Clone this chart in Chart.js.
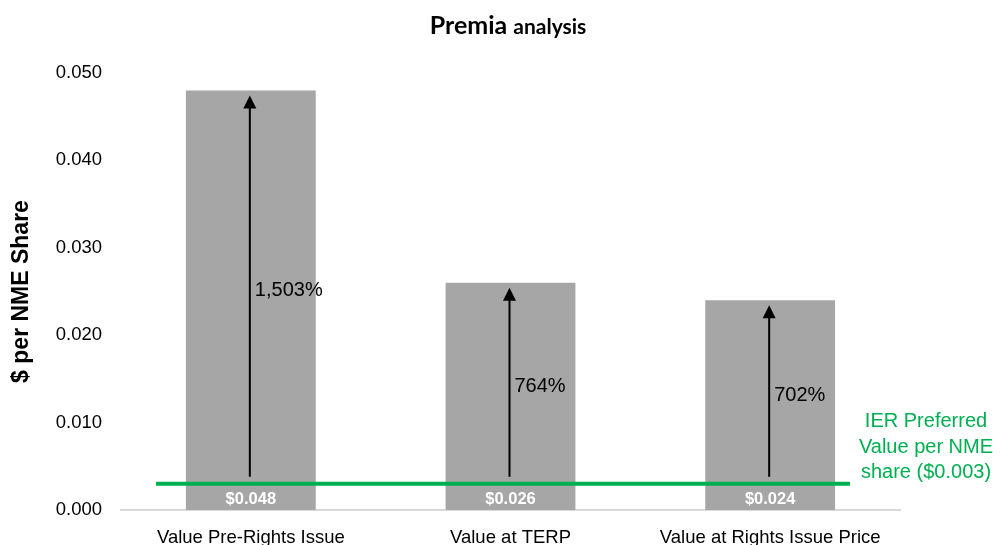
<!DOCTYPE html>
<html>
<head>
<meta charset="utf-8">
<script src="https://cdn.jsdelivr.net/npm/chart.js@4/dist/chart.umd.min.js"></script>
<style>
  html, body { margin: 0; padding: 0; background: #ffffff; }
  #wrap { width: 1000px; height: 545px; position: relative; }
</style>
</head>
<body>
<div id="wrap"><canvas id="c" width="1000" height="545"></canvas></div>
<script>
// Per-share values for each valuation basis
const categories = ['Value Pre-Rights Issue', 'Value at TERP', 'Value at Rights Issue Price'];
const shareValues = [0.048, 0.026, 0.024];
// Premium of each value over the preferred value
const premiumLabels = ['1,503%', '764%', '702%'];
// Preferred value per share (horizontal reference)
const preferredValue = 0.003;
const yTickValues = [0, 0.01, 0.02, 0.03, 0.04, 0.05];

const SANS = '"Liberation Sans", Arial, Helvetica, sans-serif';
const GREEN = '#00B050';
const BAR_GREY = '#A6A6A6';

// Bar value labels, reference line, premium arrows and the title
const overlayPlugin = {
  id: 'overlay',
  afterDatasetsDraw(chart) {
    const ctx = chart.ctx;
    const ys = chart.scales.y;
    const meta = chart.getDatasetMeta(0);
    const area = chart.chartArea;
    const lineY = ys.getPixelForValue(preferredValue);

    ctx.save();

    // value labels near the base of each bar
    ctx.fillStyle = '#ffffff';
    ctx.font = 'bold 16.5px ' + SANS;
    ctx.textAlign = 'center';
    ctx.textBaseline = 'middle';
    meta.data.forEach((bar, i) => {
      ctx.fillText('$' + shareValues[i].toFixed(3), bar.x, area.bottom - 11);
    });

    // preferred-value reference line
    ctx.strokeStyle = GREEN;
    ctx.lineWidth = 4;
    ctx.beginPath();
    ctx.moveTo(area.left + 35, lineY);
    ctx.lineTo(area.right - 50, lineY);
    ctx.stroke();

    // its label to the right
    ctx.fillStyle = GREEN;
    ctx.font = '20px ' + SANS;
    ctx.textAlign = 'center';
    const labelX = area.right + 26;
    const midY = lineY - 36;
    ctx.fillText('IER Preferred', labelX, midY - 26);
    ctx.fillText('Value per NME', labelX, midY);
    ctx.fillText('share ($' + preferredValue.toFixed(3) + ')', labelX, midY + 25);

    // premium arrows from the reference line up to each bar
    meta.data.forEach((bar, i) => {
      const ax = bar.x - 1;
      const tail = lineY - 7;
      const tip = ys.getPixelForValue(shareValues[i]) + 5;
      ctx.strokeStyle = '#000000';
      ctx.fillStyle = '#000000';
      ctx.lineWidth = 2;
      ctx.beginPath();
      ctx.moveTo(ax, tail);
      ctx.lineTo(ax, tip + 11);
      ctx.stroke();
      ctx.beginPath();
      ctx.moveTo(ax, tip);
      ctx.lineTo(ax - 6.5, tip + 13);
      ctx.lineTo(ax + 6.5, tip + 13);
      ctx.closePath();
      ctx.fill();

      ctx.font = '20px ' + SANS;
      ctx.textAlign = 'left';
      ctx.textBaseline = 'middle';
      ctx.fillText(premiumLabels[i], ax + 5, (tail + tip) / 2 + 4);
    });

    ctx.restore();
  },
  afterDraw(chart) {
    const ctx = chart.ctx;
    ctx.save();
    ctx.fillStyle = '#000000';
    ctx.textBaseline = 'alphabetic';
    const bigFont = 'bold 25px Lato, "Open Sans", sans-serif';
    const smallFont = 'bold 21px Lato, "Open Sans", sans-serif';
    ctx.font = bigFont;
    const w1 = ctx.measureText('Premia ').width;
    ctx.font = smallFont;
    const w2 = ctx.measureText('analysis').width;
    const startX = 508 - (w1 + w2) / 2;
    ctx.font = bigFont;
    ctx.textAlign = 'left';
    ctx.fillText('Premia ', startX, 34);
    ctx.font = smallFont;
    ctx.fillText('analysis', startX + w1, 34);
    ctx.restore();
  }
};

new Chart(document.getElementById('c'), {
  type: 'bar',
  data: {
    labels: categories,
    datasets: [{
      data: shareValues,
      backgroundColor: BAR_GREY,
      borderWidth: 0,
      barPercentage: 0.5,
      categoryPercentage: 1.0
    }]
  },
  options: {
    responsive: false,
    animation: false,
    devicePixelRatio: 1,
    layout: { padding: { top: 73, right: 100, left: 0, bottom: 0 } },
    plugins: {
      legend: { display: false },
      tooltip: { enabled: false },
      title: { display: false }
    },
    scales: {
      x: {
        grid: { display: false, drawTicks: false },
        border: { display: true, color: '#D9D9D9', width: 2 },
        ticks: {
          color: '#000000',
          font: { family: SANS, size: 18.5 },
          padding: 17,
          maxRotation: 0,
          autoSkip: false
        },
        afterFit(scale) { scale.height = 35; }
      },
      y: {
        min: 0,
        max: 0.05,
        afterBuildTicks(scale) { scale.ticks = yTickValues.map(v => ({ value: v })); },
        grid: { display: false, drawTicks: false },
        border: { display: false },
        ticks: {
          color: '#000000',
          font: { family: SANS, size: 18.5 },
          padding: 19,
          callback: v => Number(v).toFixed(3)
        },
        title: {
          display: true,
          text: '$ per NME Share',
          color: '#000000',
          font: { family: SANS, size: 23, weight: 'bold' },
          padding: { top: 8, bottom: 0 }
        },
        afterFit(scale) { scale.width = 121; }
      }
    }
  },
  plugins: [overlayPlugin]
});
</script>
</body>
</html>
